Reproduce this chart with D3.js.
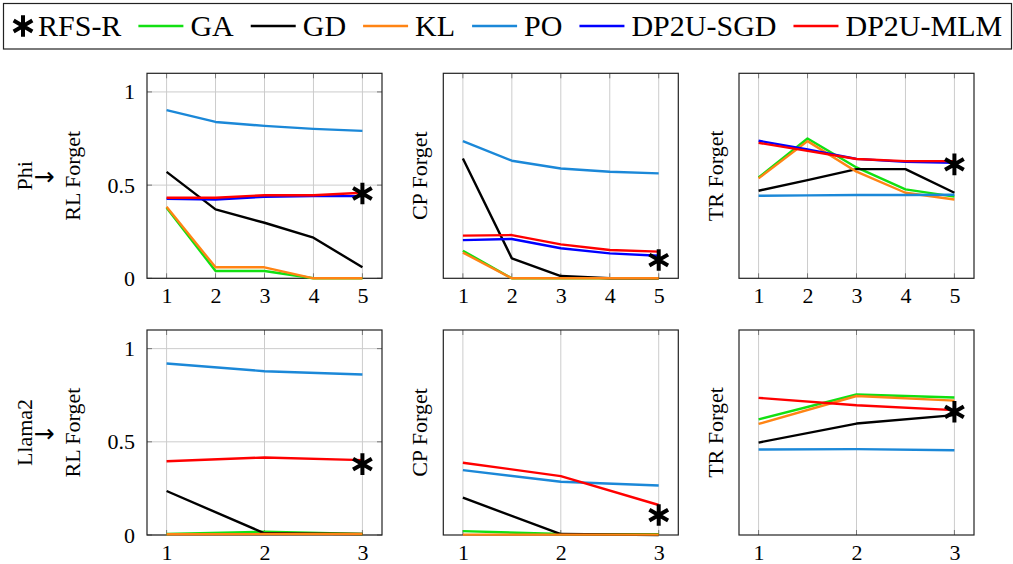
<!DOCTYPE html>
<html>
<head>
<meta charset="utf-8">
<script src="https://cdn.jsdelivr.net/npm/d3@7"></script>
<style>
  body { margin: 0; background: #fff; }
</style>
</head>
<body>
<div id="graph"></div>
<script>
// methods, in legend / draw order
var methods = ["GA", "GD", "KL", "PO", "DP2U-SGD", "DP2U-MLM"];
var methodColors = ["#12e012", "#000000", "#ff8414", "#1b88d8", "#0000ff", "#ff0000"];

// x ticks (steps)
var phiSteps = [1, 2, 3, 4, 5];
var llamaSteps = [1, 2, 3];
var yTickValues = [0, 0.5, 1];

// Phi -> values per method (GA, GD, KL, PO, DP2U-SGD, DP2U-MLM)
var phiRL = [
  [0.379, 0.039, 0.039, 0, 0],
  [0.571, 0.370, 0.298, 0.218, 0.059],
  [0.384, 0.059, 0.059, 0, 0],
  [0.902, 0.839, 0.818, 0.802, 0.791],
  [0.427, 0.423, 0.437, 0.441, 0.441],
  [0.432, 0.432, 0.446, 0.446, 0.459]
];
var phiCP = [
  [0.148, 0, 0, 0, 0],
  [0.643, 0.107, 0.012, 0, 0],
  [0.138, 0, 0, 0, 0],
  [0.736, 0.631, 0.589, 0.572, 0.563],
  [0.205, 0.211, 0.161, 0.134, 0.121],
  [0.229, 0.232, 0.182, 0.152, 0.143]
];
var phiTR = [
  [0.541, 0.750, 0.595, 0.477, 0.438],
  [0.470, 0.527, 0.586, 0.586, 0.459],
  [0.536, 0.736, 0.572, 0.459, 0.423],
  [0.443, 0.445, 0.447, 0.447, 0.448],
  [0.738, 0.691, 0.641, 0.625, 0.620],
  [0.727, 0.684, 0.640, 0.629, 0.629]
];

// Llama2 -> (no DP2U-SGD run)
var llamaRL = [
  [0.005, 0.018, 0.005],
  [0.236, 0.009, 0.005],
  [0.004, 0.005, 0.005],
  [0.920, 0.879, 0.861],
  null,
  [0.396, 0.416, 0.402]
];
var llamaCP = [
  [0.021, 0.005, 0.004],
  [0.200, 0.005, 0],
  [0.002, 0.002, 0.002],
  [0.348, 0.286, 0.266],
  null,
  [0.388, 0.316, 0.161]
];
var llamaTR = [
  [0.620, 0.754, 0.738],
  [0.496, 0.598, 0.643],
  [0.596, 0.746, 0.721],
  [0.459, 0.461, 0.455],
  null,
  [0.736, 0.696, 0.670]
];

// RFS-R single result (RL, CP, TR)
var rfsPhi = [0.455, 0.098, 0.611];
var rfsLlama = [0.380, 0.107, 0.661];

var panels = [
  { row: 0, col: 0, model: "Phi", label: "RL Forget", steps: phiSteps, data: phiRL, star: rfsPhi[0] },
  { row: 0, col: 1, label: "CP Forget", steps: phiSteps, data: phiCP, star: rfsPhi[1] },
  { row: 0, col: 2, label: "TR Forget", steps: phiSteps, data: phiTR, star: rfsPhi[2] },
  { row: 1, col: 0, model: "Llama2", label: "RL Forget", steps: llamaSteps, data: llamaRL, star: rfsLlama[0] },
  { row: 1, col: 1, label: "CP Forget", steps: llamaSteps, data: llamaCP, star: rfsLlama[1] },
  { row: 1, col: 2, label: "TR Forget", steps: llamaSteps, data: llamaTR, star: rfsLlama[2] }
];

var width = 1013, height = 564;
var colLeft = [147, 443.3, 739];
var rowTop = [73.3, 330];
var panelW = 235, panelH = 205;
var fontFam = "'Liberation Serif', 'DejaVu Serif', serif";

var svg = d3.select("#graph").append("svg")
  .attr("width", width).attr("height", height)
  .attr("font-family", fontFam)
  .style("font-family", fontFam);

var star = d3.symbol(d3.symbolAsterisk, 330);

panels.forEach(drawPanel);
drawLegend();

function drawPanel(p) {
  var g = svg.append("g").attr("transform", "translate(" + [colLeft[p.col], rowTop[p.row]] + ")");
  var n = p.steps.length;
  var pad = (p.steps[n - 1] - p.steps[0]) * 0.1;
  var x = d3.scaleLinear().domain([p.steps[0] - pad, p.steps[n - 1] + pad]).range([0, panelW]);
  var y = d3.scaleLinear().domain([0, 1.1]).range([panelH, 0]);
  var yT = p.col === 0 ? yTickValues : [];

  // grid
  g.append("g").selectAll("line").data(p.steps).join("line")
    .attr("x1", function(d) { return x(d); }).attr("x2", function(d) { return x(d); })
    .attr("y1", 0).attr("y2", panelH)
    .attr("stroke", "#cccccc").attr("stroke-width", 1);
  g.append("g").selectAll("line").data(yT).join("line")
    .attr("x1", 0).attr("x2", panelW)
    .attr("y1", function(d) { return y(d); }).attr("y2", function(d) { return y(d); })
    .attr("stroke", "#cccccc").attr("stroke-width", 1);

  // inward tick marks on all four sides
  var tk = 5;
  var ticks = g.append("g").attr("stroke", "#777").attr("stroke-width", 1);
  p.steps.forEach(function(d) {
    ticks.append("line").attr("x1", x(d)).attr("x2", x(d)).attr("y1", panelH).attr("y2", panelH - tk);
    ticks.append("line").attr("x1", x(d)).attr("x2", x(d)).attr("y1", 0).attr("y2", tk);
  });
  yT.forEach(function(d) {
    ticks.append("line").attr("x1", 0).attr("x2", tk).attr("y1", y(d)).attr("y2", y(d));
    ticks.append("line").attr("x1", panelW).attr("x2", panelW - tk).attr("y1", y(d)).attr("y2", y(d));
  });

  // frame
  g.append("rect").attr("width", panelW).attr("height", panelH)
    .attr("fill", "none").attr("stroke", "#222").attr("stroke-width", 1.2);

  // tick labels
  var xAxis = g.append("g").attr("transform", "translate(0," + panelH + ")")
    .call(d3.axisBottom(x).tickValues(p.steps).tickSize(0).tickPadding(9).tickFormat(d3.format("d")));
  xAxis.attr("font-family", fontFam).attr("font-size", 22);
  xAxis.selectAll("text").attr("fill", "#000");
  xAxis.select(".domain").remove();

  if (yT.length) {
    var yAxis = g.append("g")
      .call(d3.axisLeft(y).tickValues(yT).tickSize(0).tickPadding(12).tickFormat(d3.format("~g")));
    yAxis.attr("font-family", fontFam).attr("font-size", 22);
    yAxis.selectAll("text").attr("fill", "#000");
    yAxis.select(".domain").remove();
  }

  // y label (+ model name for first column)
  var midY = panelH / 2;
  var lx = p.col === 0 ? -67 : -16.5;
  g.append("text").attr("transform", "translate(" + [lx, midY] + ") rotate(-90)")
    .attr("text-anchor", "middle").attr("font-size", 22).text(p.label);
  if (p.model) {
    g.append("text").attr("transform", "translate(" + [-115, midY] + ") rotate(-90)")
      .attr("text-anchor", "middle").attr("font-size", 22).text(p.model);
    g.append("text").attr("x", -103).attr("y", midY + 1)
      .attr("text-anchor", "middle").attr("dominant-baseline", "central")
      .attr("font-family", "'DejaVu Sans', sans-serif")
      .attr("font-size", 25).text("→");
  }

  // lines
  var line = d3.line()
    .x(function(d, i) { return x(p.steps[i]); })
    .y(function(d) { return y(d); });
  p.data.forEach(function(vals, k) {
    if (!vals) return;
    g.append("path").datum(vals)
      .attr("d", line)
      .attr("fill", "none")
      .attr("stroke", methodColors[k])
      .attr("stroke-width", 2.4)
      .attr("stroke-linejoin", "round");
  });

  // RFS-R marker at the last step
  g.append("path").attr("d", star)
    .attr("transform", "translate(" + [x(p.steps[n - 1]), y(p.star)] + ")")
    .attr("fill", "none").attr("stroke", "#000").attr("stroke-width", 4);
}

function drawLegend() {
  var lg = svg.append("g");
  lg.append("rect").attr("x", 3.5).attr("y", 3.5).attr("width", 1008).attr("height", 45.5)
    .attr("fill", "none").attr("stroke", "#222").attr("stroke-width", 1.2);

  var cy = 26, base = 35.5, gap = 17;
  lg.append("path").attr("d", star).attr("transform", "translate(23," + cy + ")")
    .attr("fill", "none").attr("stroke", "#000").attr("stroke-width", 4);
  var t0 = lg.append("text").attr("x", 38).attr("y", base).attr("font-size", 30).text("RFS-R");
  var cx = 38 + t0.node().getComputedTextLength() + gap;

  methods.forEach(function(m, k) {
    lg.append("line").attr("x1", cx).attr("x2", cx + 45).attr("y1", cy).attr("y2", cy)
      .attr("stroke", methodColors[k]).attr("stroke-width", 2.4);
    var t = lg.append("text").attr("x", cx + 52).attr("y", base).attr("font-size", 30).text(m);
    cx = cx + 52 + t.node().getComputedTextLength() + gap;
  });
}
</script>
</body>
</html>
